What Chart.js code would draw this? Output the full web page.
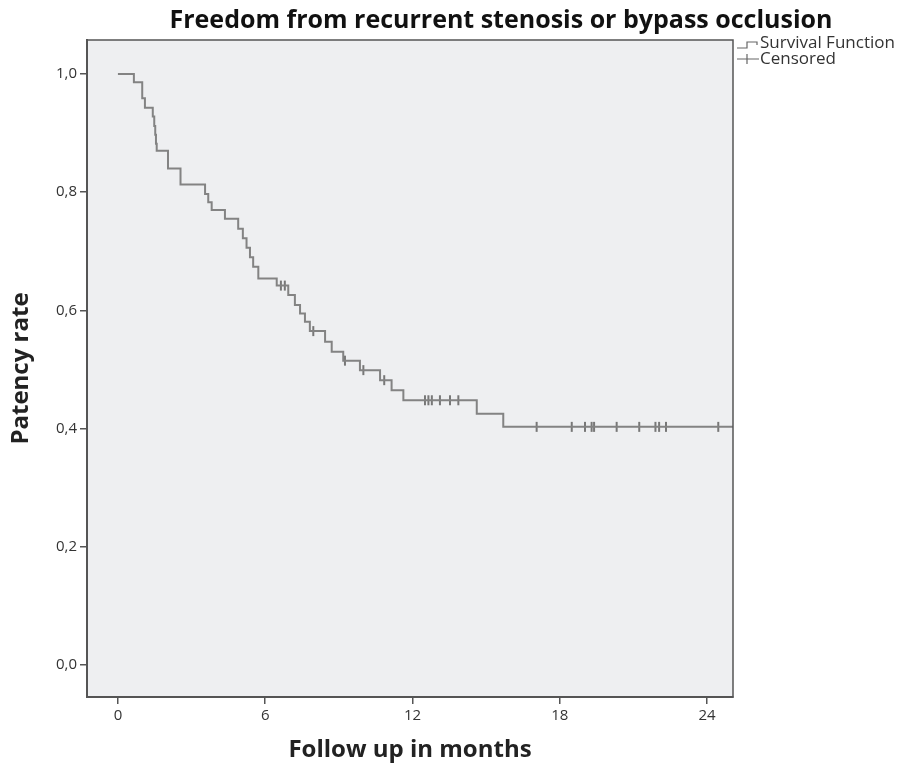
<!DOCTYPE html>
<html>
<head>
<meta charset="utf-8">
<script src="https://cdn.jsdelivr.net/npm/chart.js@4.4.1/dist/chart.umd.min.js"></script>
<style>
  html, body { margin: 0; padding: 0; background: #fff; }
</style>
</head>
<body>
<canvas id="kmChart" width="917" height="768"></canvas>
<script>
const chartTitle = 'Freedom from recurrent stenosis or bypass occlusion';
const xAxisTitle = 'Follow up in months';
const yAxisTitle = 'Patency rate';
const legendLabels = ['Survival Function', 'Censored'];

const xTickValues = [0, 6, 12, 18, 24];
const yTickValues = [0, 0.2, 0.4, 0.6, 0.8, 1.0];

// step times (months) and the survival value after each step
const eventTimes = [0, 0.65, 0.99, 1.10, 1.42, 1.48, 1.52, 1.55, 1.58, 2.04, 2.55, 3.55, 3.68, 3.82, 4.36,
  4.90, 5.09, 5.24, 5.38, 5.51, 5.72, 6.47, 6.94, 7.21, 7.42, 7.62, 7.82, 8.44, 8.71, 9.18, 9.86,
  10.68, 11.15, 11.63, 14.62, 15.70, 25.06];
const survivalValues = [1.0, 0.986, 0.959, 0.943, 0.928, 0.912, 0.897, 0.882, 0.870, 0.840, 0.813, 0.797, 0.783, 0.770, 0.755,
  0.738, 0.722, 0.706, 0.690, 0.674, 0.654, 0.642, 0.626, 0.609, 0.595, 0.581, 0.565, 0.547, 0.530, 0.515, 0.499,
  0.482, 0.465, 0.448, 0.425, 0.403, 0.403];

// censored cases
const censorTimes = [6.64, 6.80, 7.96, 9.25, 10.0, 10.85, 12.51, 12.65, 12.79, 13.12, 13.53, 13.87,
  17.06, 18.49, 19.03, 19.30, 19.40, 20.32, 21.24, 21.90, 22.05, 22.33, 24.46];
const censorValues = [0.642, 0.642, 0.565, 0.515, 0.499, 0.482, 0.448, 0.448, 0.448, 0.448, 0.448, 0.448,
  0.403, 0.403, 0.403, 0.403, 0.403, 0.403, 0.403, 0.403, 0.403, 0.403, 0.403];

const FONT = 'Open Sans';
const lineGray = '#838383';
const frameGray = '#555';

// fond gris + cadre + titre + légende
const framePlugin = {
  id: 'framePlugin',
  beforeDraw(chart) {
    const { ctx, chartArea: a } = chart;
    ctx.save();
    ctx.fillStyle = '#eeeff1';
    ctx.fillRect(a.left, a.top, a.right - a.left, a.bottom - a.top);
    ctx.restore();
  },
  afterDraw(chart) {
    const { ctx, chartArea: a } = chart;
    ctx.save();
    ctx.strokeStyle = frameGray;
    ctx.lineWidth = 1.5;
    ctx.strokeRect(a.left, a.top, a.right - a.left, a.bottom - a.top);

    // titre
    ctx.fillStyle = '#111';
    ctx.font = 'bold 25px "' + FONT + '"';
    ctx.textAlign = 'center';
    ctx.textBaseline = 'middle';
    ctx.fillText(chartTitle, 501, 21);

    // légende
    const lx = a.right + 4;
    ctx.strokeStyle = '#666';
    ctx.lineWidth = 1.2;
    ctx.beginPath();
    ctx.moveTo(lx, 48); ctx.lineTo(lx + 10, 48); ctx.lineTo(lx + 10, 42);
    ctx.lineTo(lx + 20, 42); ctx.lineTo(lx + 20, 45);
    ctx.moveTo(lx, 59); ctx.lineTo(lx + 22, 59);
    ctx.moveTo(lx + 10, 54); ctx.lineTo(lx + 10, 64);
    ctx.stroke();
    ctx.fillStyle = '#333';
    ctx.font = '17px "' + FONT + '"';
    ctx.textAlign = 'left';
    ctx.fillText(legendLabels[0], lx + 23, 43);
    ctx.fillText(legendLabels[1], lx + 23, 59);
    ctx.restore();
  }
};

new Chart(document.getElementById('kmChart'), {
  data: {
    datasets: [
      {
        type: 'line',
        label: legendLabels[0],
        data: eventTimes.map((t, i) => ({ x: t, y: survivalValues[i] })),
        stepped: 'before',
        borderColor: lineGray,
        borderWidth: 2,
        pointRadius: 0,
        fill: false
      },
      {
        type: 'scatter',
        label: legendLabels[1],
        data: censorTimes.map((t, i) => ({ x: t, y: censorValues[i] })),
        pointStyle: 'line',
        rotation: 90,
        pointRadius: 5,
        borderColor: '#777',
        borderWidth: 2
      }
    ]
  },
  options: {
    responsive: false,
    animation: false,
    layout: { padding: { top: 40, right: 184, bottom: 0, left: 0 } },
    plugins: {
      legend: { display: false },
      tooltip: { enabled: false }
    },
    scales: {
      x: {
        type: 'linear',
        min: -1.26,
        max: 25.06,
        afterBuildTicks: axis => { axis.ticks = xTickValues.map(v => ({ value: v })); },
        afterFit: s => { s.height = 71; },
        grid: { drawOnChartArea: false, drawTicks: true, tickLength: 7, tickColor: frameGray, lineWidth: 1.5 },
        border: { display: true, color: frameGray, width: 2 },
        ticks: { color: '#333', font: { family: FONT, size: 15 }, padding: 3, maxRotation: 0 },
        title: { display: true, text: xAxisTitle, color: '#222', font: { family: FONT, size: 24, weight: 'bold' }, padding: { top: 0, bottom: 3 } }
      },
      y: {
        type: 'linear',
        min: -0.054,
        max: 1.0575,
        afterBuildTicks: axis => { axis.ticks = yTickValues.map(v => ({ value: v })); },
        afterFit: s => { s.width = 87; },
        grid: { drawOnChartArea: false, drawTicks: true, tickLength: 7, tickColor: frameGray, lineWidth: 1.5 },
        border: { display: true, color: frameGray, width: 2 },
        ticks: {
          color: '#333',
          font: { family: FONT, size: 15 },
          padding: 3,
          callback: v => v.toFixed(1).replace('.', ',')
        },
        title: { display: true, text: yAxisTitle, color: '#222', font: { family: FONT, size: 24, weight: 'bold' }, padding: { top: 7, bottom: 0 } }
      }
    }
  },
  plugins: [framePlugin]
});
</script>
</body>
</html>
